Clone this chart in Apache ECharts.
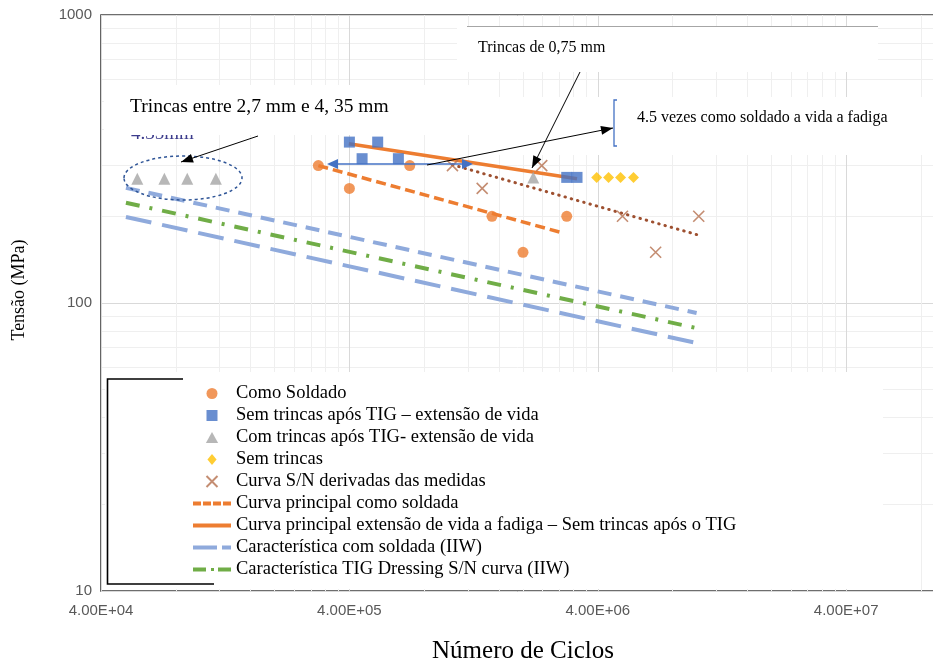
<!DOCTYPE html>
<html><head><meta charset="utf-8">
<script src="https://cdn.jsdelivr.net/npm/echarts@6/dist/echarts.min.js"></script>
<style>html,body{margin:0;padding:0;background:#fff}#c{width:933px;height:666px}</style>
</head><body><div id="c"></div>
<script>
// ---- tick values ----
const xTickValues = [4e4, 4e5, 4e6, 4e7];
const yTickValues = [10, 100, 1000];

// ---- legend names ----
const legendNames = [
  'Como Soldado',
  'Sem trincas após TIG – extensão de vida',
  'Com trincas após TIG- extensão de vida',
  'Sem trincas',
  'Curva S/N derivadas das medidas',
  'Curva principal como soldada',
  'Curva principal extensão de vida a fadiga – Sem trincas após o TIG',
  'Característica com soldada (IIW)',
  'Característica TIG Dressing S/N curva (IIW)'
];

// ---- data (N cycles, stress MPa) ----
const comoSoldadoN = [3.0e5, 4.0e5, 7.0e5, 1.5e6, 2.0e6, 3.0e6];
const comoSoldadoS = [300, 250, 300, 200, 150, 200];
const semTrincasTigN = [4.0e5, 4.5e5, 5.2e5, 6.3e5, 3.0e6, 3.3e6];
const semTrincasTigS = [362, 317, 362, 317, 273, 273];
const comTrincasTigN = [5.6e4, 7.2e4, 8.9e4, 1.16e5, 2.2e6];
const comTrincasTigS = [270, 270, 270, 270, 273];
const semTrincasN = [3.96e6, 4.42e6, 4.94e6, 5.57e6];
const semTrincasS = [273, 273, 273, 273];
const curvaSNN = [1.04e6, 1.37e6, 2.38e6, 5.03e6, 6.84e6, 1.02e7];
const curvaSNS = [300, 250, 300, 200, 150, 200];

const principalSoldadaN = [3.0e5, 2.9e6];
const principalSoldadaS = [300, 175];
const principalExtN = [3.98e5, 3.3e6];
const principalExtS = [357, 270];
const iiwSoldadaN = [5.04e4, 1.0e7];
const iiwSoldadaS = [199, 72.6];
const iiwUpperN = [5.04e4, 1.0e7];
const iiwUpperS = [251, 92.3];
const tigIIWN = [5.04e4, 1.0e7];
const tigIIWS = [223, 81.8];
const snTrendN = [1.04e6, 1.02e7];
const snTrendS = [302, 172];

function pairs(a, b) { return a.map((v, i) => [v, b[i]]); }
function fmtE(v) {
  const e = Math.floor(Math.log10(v) + 1e-9);
  const m = v / Math.pow(10, e);
  return m.toFixed(2) + 'E+' + (e < 10 ? '0' : '') + e;
}
const X_MIN = 4e4, X_MAX = 1e8;
const xMinor = [];
for (let d = X_MIN; d < X_MAX; d *= 10) for (let j = 2; j <= 9; j++) { const v = d * j; if (v < X_MAX) xMinor.push(v); }
const yMinor = [];
for (let d = 10; d < 1000; d *= 10) for (let j = 2; j <= 9; j++) yMinor.push(d * j);

function head(tx, ty, fx, fy, len, w) {
  const dx = tx - fx, dy = ty - fy, L = Math.hypot(dx, dy), ux = dx / L, uy = dy / L;
  const bx = tx - ux * len, by = ty - uy * len;
  return [[tx, ty], [bx - uy * w / 2, by + ux * w / 2], [bx + uy * w / 2, by - ux * w / 2]];
}

const serif = 'Liberation Serif';
const sans = 'Liberation Sans';
const gridLine = '#D9D9D9', minorLine = '#EFEFEF';

const chart = echarts.init(document.getElementById('c'), null, { renderer: 'canvas' });

function scatter(name, n, s, symbol, size, color, extra) {
  return Object.assign({
    type: 'scatter', name, data: pairs(n, s), symbol, symbolSize: size,
    itemStyle: { color }, z: 3, silent: true
  }, extra || {});
}
function line(name, n, s, color, width, dash, cap) {
  return {
    type: 'line', name, data: pairs(n, s), symbol: 'none', silent: true, z: 2,
    itemStyle: { color },
    lineStyle: { color, width, type: dash, cap: cap || 'butt' }
  };
}

// legend icon shapes
const legendIcons = [
  'circle',
  'path://M0,0h10v10h-10z',
  'path://M5,0L10,9L0,9Z',
  'path://M5,0L10,6L5,12L0,6Z',
  null,
  'path://M0,0h8v4h-8zM10,0h8v4h-8zM20,0h8v4h-8zM30,0h8v4h-8z',
  'path://M0,0h38v4h-38z',
  'path://M0,0h24v4h-24zM29,0h9v4h-9z',
  'path://M0,0h13v4h-13zM18,0.5h3v3h-3zM25,0h13v4h-13z'
];
const legendData = legendNames.map((n, i) => legendIcons[i]
  ? { name: n, icon: legendIcons[i], itemStyle: { borderWidth: 0 } }
  : { name: n });

const arrows = [
  { from: [258, 136], to: [181, 162], color: '#000', w: 1 },
  { from: [580, 72], to: [532, 168], color: '#000', w: 1 },
  { from: [427, 165], to: [613, 128], color: '#000', w: 1 }
];
const gfx = [
  { type: 'rect', shape: { x: 105, y: 372, width: 778, height: 217 }, style: { fill: '#fff' }, z: 1, silent: true },
  { type: 'polyline', shape: { points: [[183, 379], [107.5, 379], [107.5, 584], [214, 584]] }, style: { stroke: '#000', lineWidth: 1.6, fill: null }, z: 3, silent: true },
  { type: 'text', x: 131, y: 143.5, style: { text: '4.35mm', fontSize: 19, fontFamily: serif, fill: '#3C3C8C', verticalAlign: 'bottom' }, z: 4, silent: true },
  { type: 'rect', shape: { x: 104, y: 85, width: 386, height: 50 }, style: { fill: '#fff' }, z: 5, silent: true },
  { type: 'rect', shape: { x: 457, y: 26, width: 421, height: 46 }, style: { fill: '#fff' }, z: 5, silent: true },
  { type: 'line', shape: { x1: 467, y1: 26.5, x2: 878, y2: 26.5 }, style: { stroke: '#A6A6A6', lineWidth: 1 }, z: 6, silent: true },
  { type: 'rect', shape: { x: 488, y: 97, width: 445, height: 58 }, style: { fill: '#fff' }, z: 5, silent: true },
  { type: 'text', x: 130, y: 107, style: { text: 'Trincas entre 2,7 mm e 4, 35 mm', fontSize: 19.5, fontFamily: serif, fill: '#000', verticalAlign: 'middle' }, z: 7, silent: true },
  { type: 'text', x: 478, y: 48, style: { text: 'Trincas de 0,75 mm', fontSize: 16, fontFamily: serif, fill: '#000', verticalAlign: 'middle' }, z: 7, silent: true },
  { type: 'text', x: 637, y: 118, style: { text: '4.5 vezes como soldado a vida a fadiga', fontSize: 16, fontFamily: serif, fill: '#000', verticalAlign: 'middle' }, z: 7, silent: true },
  { type: 'polyline', shape: { points: [[617, 100], [614, 100], [614, 146], [617, 146]] }, style: { stroke: '#4472C4', lineWidth: 1.3, fill: null }, z: 7, silent: true },
  { type: 'ellipse', shape: { cx: 183, cy: 178, rx: 59, ry: 22 }, style: { stroke: '#2F5597', lineWidth: 1.5, lineDash: [3, 3], fill: null }, z: 7, silent: true },
  // blue double arrow
  { type: 'line', shape: { x1: 335, y1: 164, x2: 464, y2: 164 }, style: { stroke: '#4472C4', lineWidth: 1.5 }, z: 8, silent: true },
  { type: 'polygon', shape: { points: head(327, 164, 470, 164, 11, 10) }, style: { fill: '#4472C4' }, z: 8, silent: true },
  { type: 'polygon', shape: { points: head(473, 164, 330, 164, 11, 10) }, style: { fill: '#4472C4' }, z: 8, silent: true }
];
arrows.forEach(a => {
  gfx.push({ type: 'line', shape: { x1: a.from[0], y1: a.from[1], x2: a.to[0], y2: a.to[1] }, style: { stroke: a.color, lineWidth: a.w }, z: 8, silent: true });
  gfx.push({ type: 'polygon', shape: { points: head(a.to[0], a.to[1], a.from[0], a.from[1], 12, 9) }, style: { fill: a.color }, z: 8, silent: true });
});

const option = {
  animation: false,
  backgroundColor: '#fff',
  grid: {
    left: 101, top: 15, right: -12, bottom: 75,
    show: true, borderColor: '#3F3F3F', borderWidth: 1.6, backgroundColor: 'transparent',
    containLabel: false, outerBoundsMode: 'none'
  },
  xAxis: [
    {
      type: 'log', logBase: 10, min: X_MIN, max: X_MAX,
      axisLine: { show: false },
      axisTick: { show: false, customValues: xTickValues },
      axisLabel: { customValues: xTickValues, formatter: fmtE, fontFamily: sans, fontSize: 15, color: '#595959', margin: 12 },
      splitLine: { show: true, lineStyle: { color: gridLine, width: 1 } },
      name: 'Número de Ciclos', nameLocation: 'middle', nameGap: 48,
      nameTextStyle: { fontFamily: serif, fontSize: 25, color: '#000' }
    },
    {
      type: 'log', logBase: 10, min: X_MIN, max: X_MAX, position: 'top',
      axisLine: { show: false },
      axisTick: { show: false, customValues: xMinor },
      axisLabel: { show: false },
      splitLine: { show: true, lineStyle: { color: minorLine, width: 1 } }
    }
  ],
  yAxis: [
    {
      type: 'log', logBase: 10, min: 10, max: 1000,
      axisLine: { show: false },
      axisTick: { show: false, customValues: yTickValues },
      axisLabel: { customValues: yTickValues, formatter: v => String(Math.round(v)), fontFamily: sans, fontSize: 15, color: '#595959', margin: 9 },
      splitLine: { show: true, lineStyle: { color: gridLine, width: 1 } },
      name: 'Tensão (MPa)', nameLocation: 'middle', nameGap: 73,
      nameTextStyle: { fontFamily: serif, fontSize: 18, color: '#000', padding: [0, 0, 0, 26] }
    },
    {
      type: 'log', logBase: 10, min: 10, max: 1000, position: 'right',
      axisLine: { show: false },
      axisTick: { show: false, customValues: yMinor },
      axisLabel: { show: false },
      splitLine: { show: true, lineStyle: { color: minorLine, width: 1 } }
    }
  ],
  legend: {
    orient: 'vertical', left: 193, top: 384, padding: 0, itemGap: 3,
    itemWidth: 38, itemHeight: 11, selectedMode: false, z: 4, symbolKeepAspect: true,
    textStyle: { fontFamily: serif, fontSize: 18.5, color: '#000', lineHeight: 16 },
    data: legendData
  },
  series: [
    line('IIW superior', iiwUpperN, iiwUpperS, '#8FAADC', 4, [14, 9]),
    line(legendNames[7], iiwSoldadaN, iiwSoldadaS, '#8FAADC', 4, [26, 11]),
    line(legendNames[8], tigIIWN, tigIIWS, '#70AD47', 4, [14, 10, 3, 10]),
    line(legendNames[5], principalSoldadaN, principalSoldadaS, '#ED7D31', 3.5, [10, 5]),
    line(legendNames[6], principalExtN, principalExtS, '#ED7D31', 3.5, 'solid'),
    line('Tendência S/N', snTrendN, snTrendS, '#9E5030', 3, [0.5, 6], 'round'),
    scatter(legendNames[0], comoSoldadoN, comoSoldadoS, 'circle', 11, '#ED7D31'),
    scatter(legendNames[1], semTrincasTigN, semTrincasTigS, 'rect', 11, '#4472C4'),
    scatter(legendNames[2], comTrincasTigN, comTrincasTigS, 'triangle', 12, '#A5A5A5'),
    scatter(legendNames[3], semTrincasN, semTrincasS, 'diamond', 11, '#FFC000'),
    scatter(legendNames[4], curvaSNN, curvaSNS, 'path://M0,0L10,10M10,0L0,10', 11, '#B5704F',
      { itemStyle: { color: '#B5704F', borderColor: '#B5704F', borderWidth: 1.6 } })
  ],
  graphic: { elements: gfx }
};
chart.setOption(option);
</script>
</body></html>
